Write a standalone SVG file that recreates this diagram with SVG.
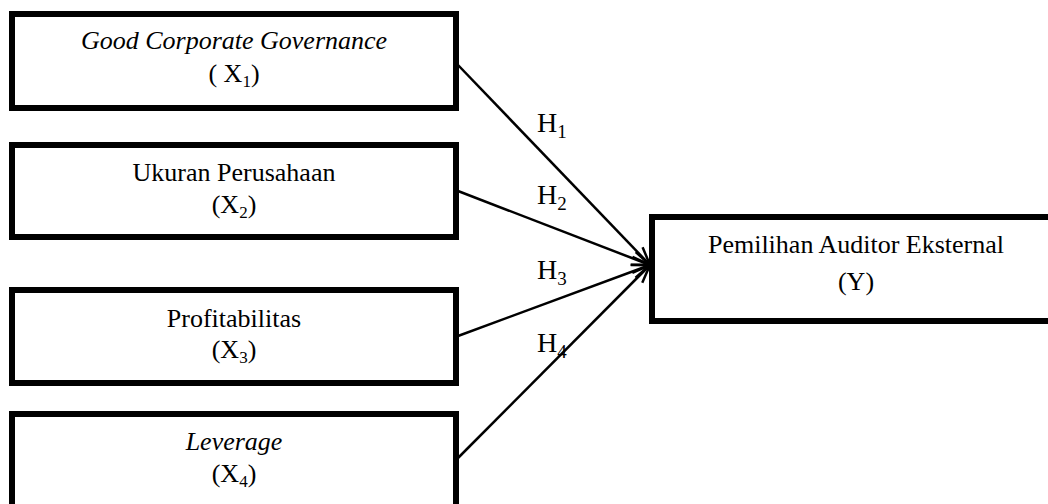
<svg xmlns="http://www.w3.org/2000/svg" width="1048" height="504" viewBox="0 0 1048 504">
<style>
.box{fill:#fff;stroke:#000;stroke-width:6}
.t{font-family:"Liberation Serif","Times New Roman",serif;font-size:26px;fill:#000;text-anchor:middle}
.it{font-style:italic}
.h{font-family:"Liberation Serif","Times New Roman",serif;font-size:28px;fill:#000}
.sub{font-size:17px}
.hsub{font-size:19px}
.c{stroke:#000;stroke-width:2.5;fill:none;marker-end:url(#arr)}
</style>
<defs>
<marker id="arr" markerUnits="userSpaceOnUse" markerWidth="24" markerHeight="24" viewBox="-20 -12 24 24" refX="0" refY="0" orient="auto">
<path d="M-18,-7 L0,0 L-18,7" fill="none" stroke="#000" stroke-width="2.5"/>
</marker>
</defs>
<rect width="1048" height="504" fill="#fff"/>
<g id="connectors">
<line class="c" x1="458" y1="65" x2="650" y2="265"/>
<line class="c" x1="458" y1="191" x2="650" y2="265"/>
<line class="c" x1="458" y1="336" x2="650" y2="265"/>
<line class="c" x1="458" y1="458" x2="650" y2="265"/>
<text class="h" x="537" y="132">H<tspan class="hsub" dy="6">1</tspan></text>
<text class="h" x="537" y="204">H<tspan class="hsub" dy="6">2</tspan></text>
<text class="h" x="537" y="279">H<tspan class="hsub" dy="6">3</tspan></text>
<text class="h" x="537" y="352">H<tspan class="hsub" dy="6">4</tspan></text>
</g>
<g id="x1">
<rect class="box" x="12" y="14" width="444" height="94"/>
<text class="t it" x="234" y="49">Good Corporate Governance</text>
<text class="t" x="234" y="82">( X<tspan class="sub" dy="5">1</tspan><tspan dy="-5">)</tspan></text>
</g>
<g id="x2">
<rect class="box" x="12" y="145" width="444" height="92"/>
<text class="t" x="234" y="181">Ukuran Perusahaan</text>
<text class="t" x="234" y="213">(X<tspan class="sub" dy="5">2</tspan><tspan dy="-5">)</tspan></text>
</g>
<g id="x3">
<rect class="box" x="12" y="290" width="444" height="93"/>
<text class="t" x="234" y="327">Profitabilitas</text>
<text class="t" x="234" y="358">(X<tspan class="sub" dy="5">3</tspan><tspan dy="-5">)</tspan></text>
</g>
<g id="x4">
<rect class="box" x="12" y="414" width="444" height="100"/>
<text class="t it" x="234" y="450">Leverage</text>
<text class="t" x="234" y="482">(X<tspan class="sub" dy="5">4</tspan><tspan dy="-5">)</tspan></text>
</g>
<g id="y">
<rect class="box" x="652" y="217" width="420" height="104"/>
<text class="t" x="856" y="253">Pemilihan Auditor Eksternal</text>
<text class="t" x="856" y="290">(Y)</text>
</g>
</svg>
